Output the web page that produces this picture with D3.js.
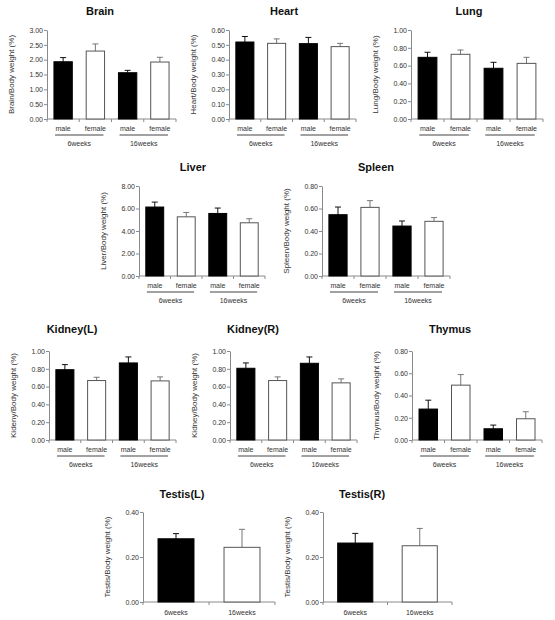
<!DOCTYPE html>
<html><head><meta charset="utf-8">
<script src="https://cdn.jsdelivr.net/npm/d3@7"></script>
<style>
body{margin:0;background:#fff;}
svg{display:block;font-family:"Liberation Sans",Arial,sans-serif;}
</style></head>
<body><svg id="c" width="555" height="620"></svg>
<script>
// ---- data ----
const sexes = ["male", "female"];
const ages = ["6weeks", "16weeks"];
const organTitles = ["Brain","Heart","Lung","Liver","Spleen","Kidney(L)","Kidney(R)","Thymus","Testis(L)","Testis(R)"];
const yLabels = ["Brain/Body weight (%)","Heart/Body weight (%)","Lung/Body weight (%)","Liver/Body weight (%)","Spleen/Body weight (%)","Kideny/Body weight (%)","Kidney/Body weight (%)","Thymus/Body weight (%)","Testis/Body weight (%)","Testis/Body weight (%)"];
const yMax = [3.0, 0.6, 1.0, 8.0, 0.8, 1.0, 1.0, 0.8, 0.4, 0.4];
const yStep = [0.5, 0.1, 0.2, 2.0, 0.2, 0.2, 0.2, 0.2, 0.2, 0.2];
// order: male 6w, female 6w, male 16w, female 16w
const brainMean  = [1.93, 2.29, 1.56, 1.92];  const brainErr  = [0.14, 0.24, 0.08, 0.16];
const heartMean  = [0.519, 0.51, 0.508, 0.488]; const heartErr = [0.037, 0.03, 0.042, 0.022];
const lungMean   = [0.693, 0.727, 0.57, 0.625]; const lungErr  = [0.057, 0.048, 0.067, 0.068];
const liverMean  = [6.13, 5.26, 5.56, 4.73];  const liverErr  = [0.44, 0.39, 0.48, 0.36];
const spleenMean = [0.545, 0.61, 0.444, 0.486]; const spleenErr = [0.068, 0.06, 0.045, 0.033];
const kidneyLMean = [0.79, 0.668, 0.866, 0.664]; const kidneyLErr = [0.057, 0.037, 0.067, 0.045];
const kidneyRMean = [0.806, 0.668, 0.862, 0.642]; const kidneyRErr = [0.06, 0.041, 0.071, 0.045];
const thymusMean = [0.278, 0.493, 0.101, 0.191]; const thymusErr = [0.08, 0.095, 0.033, 0.063];
// testis: 6weeks, 16weeks
const testisLMean = [0.281, 0.243]; const testisLErr = [0.023, 0.08];
const testisRMean = [0.262, 0.25];  const testisRErr = [0.043, 0.077];

const means = [brainMean, heartMean, lungMean, liverMean, spleenMean, kidneyLMean, kidneyRMean, thymusMean, testisLMean, testisRMean];
const errs  = [brainErr, heartErr, lungErr, liverErr, spleenErr, kidneyLErr, kidneyRErr, thymusErr, testisLErr, testisRErr];

// ---- layout (positions only) ----
const layout = [
  {x0:47,  x1:176, top:30,  bot:119, tx:100, ty:15},
  {x0:229, x1:356, top:30,  bot:119, tx:284, ty:15},
  {x0:411, x1:543, top:30,  bot:119, tx:469, ty:15},
  {x0:139, x1:265, top:186, bot:276, tx:193, ty:171},
  {x0:322, x1:450, top:186, bot:276, tx:376, ty:171},
  {x0:49,  x1:176, top:351, bot:440, tx:72,  ty:333},
  {x0:230, x1:357, top:351, bot:440, tx:253, ty:333},
  {x0:412, x1:542, top:351, bot:440, tx:450, ty:333},
  {x0:143, x1:275, top:512, bot:602, tx:182, ty:498},
  {x0:323, x1:452, top:512, bot:602, tx:362, ty:498}
];

const svg = d3.select("#c");
const axisColor = "#8a8a8a", textColor = "#333";

organTitles.forEach((title, i) => {
  const L = layout[i];
  const g = svg.append("g");
  const isTestis = means[i].length === 2;
  const cats = isTestis ? ages : ages.flatMap(a => sexes.map(s => a + "|" + s));
  const x = d3.scaleBand().domain(cats).range([L.x0, L.x1])
    .paddingInner(isTestis ? 0.44 : 0.4).paddingOuter(isTestis ? 0.22 : 0.2);
  const y = d3.scaleLinear().domain([0, yMax[i]]).range([L.bot, L.top]);
  const ticks = d3.range(0, yMax[i] + yStep[i] / 2, yStep[i]);

  // title
  g.append("text").attr("x", L.tx).attr("y", L.ty).attr("text-anchor", "middle")
    .attr("font-size", 11).attr("font-weight", "bold").attr("fill", "#111").text(title);

  // y label
  g.append("text").attr("transform", `translate(${L.x0 - 33},${(L.top + L.bot) / 2}) rotate(-90)`)
    .attr("text-anchor", "middle").attr("font-size", 8).attr("fill", textColor).text(yLabels[i]);

  // y axis
  const ya = g.append("g").attr("transform", `translate(${L.x0},0)`)
    .call(d3.axisLeft(y).tickValues(ticks).tickFormat(d3.format(".2f")).tickSize(3).tickSizeOuter(0));
  ya.select(".domain").attr("stroke", axisColor);
  ya.selectAll(".tick line").attr("stroke", axisColor);
  ya.selectAll(".tick text").attr("font-size", 7).attr("fill", textColor)
    .attr("font-family", "'Liberation Sans',Arial,sans-serif").attr("x", -4);

  // x axis line and boundary ticks
  g.append("line").attr("x1", L.x0).attr("x2", L.x1).attr("y1", L.bot).attr("y2", L.bot).attr("stroke", axisColor);
  const step = x.step();
  const start = L.x0;
  d3.range(cats.length + 1).forEach(k => {
    const xx = start + k * step;
    g.append("line").attr("x1", xx).attr("x2", xx).attr("y1", L.bot).attr("y2", L.bot + 3).attr("stroke", axisColor);
  });

  // bars
  const bw = x.bandwidth();
  means[i].forEach((v, k) => {
    const black = k % 2 === 0 && !isTestis || (isTestis && k === 0);
    const bx = x(cats[k]);
    const yTopErr = y(v + errs[i][k]);
    const cx = bx + bw / 2;
    g.append("line").attr("x1", cx).attr("x2", cx).attr("y1", y(v)).attr("y2", yTopErr)
      .attr("stroke", black ? "#111" : "#777").attr("stroke-width", 1);
    g.append("line").attr("x1", cx - 3).attr("x2", cx + 3).attr("y1", yTopErr).attr("y2", yTopErr)
      .attr("stroke", black ? "#111" : "#777").attr("stroke-width", 1);
    g.append("rect").attr("x", bx + 0.5).attr("y", y(v)).attr("width", bw - 1).attr("height", L.bot - y(v))
      .attr("fill", black ? "#000" : "#fff").attr("stroke", black ? "#000" : "#555").attr("stroke-width", 1);
  });

  // category labels
  if (isTestis) {
    cats.forEach(c => {
      g.append("text").attr("x", x(c) + bw / 2).attr("y", L.bot + 13).attr("text-anchor", "middle")
        .attr("font-size", 7).attr("fill", textColor).text(c);
    });
  } else {
    cats.forEach(c => {
      g.append("text").attr("x", x(c) + bw / 2).attr("y", L.bot + 12).attr("text-anchor", "middle")
        .attr("font-size", 7).attr("fill", textColor).text(c.split("|")[1]);
    });
    ages.forEach((a, j) => {
      const b0 = start + (2 * j) * step, b1 = start + (2 * j + 1) * step;
      g.append("line").attr("x1", b0 + step * 0.25).attr("x2", b1 + step * 0.75)
        .attr("y1", L.bot + 16).attr("y2", L.bot + 16).attr("stroke", "#444");
      g.append("text").attr("x", b1).attr("y", L.bot + 27).attr("text-anchor", "middle")
        .attr("font-size", 7).attr("fill", textColor).text(a);
    });
  }
});
</script></body></html>
